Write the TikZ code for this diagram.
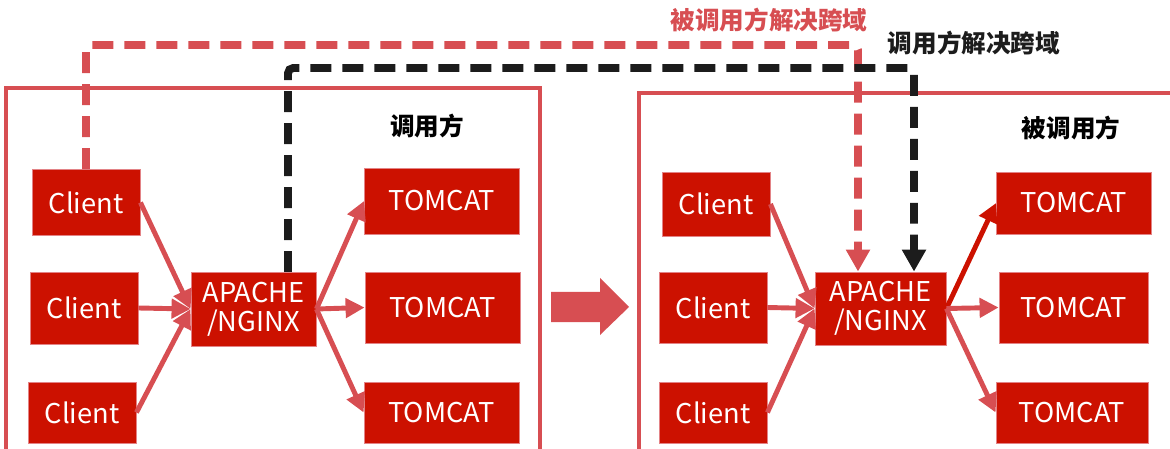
\documentclass[tikz,border=0pt]{standalone}
\usepackage{fontspec}
\setmainfont{Noto Sans CJK SC}
\usetikzlibrary{arrows.meta}
\definecolor{boxred}{RGB}{204,17,0}
\definecolor{linered}{RGB}{215,78,82}
\definecolor{darkline}{RGB}{28,28,28}
\begin{document}
\begin{tikzpicture}[x=0.02cm,y=-0.02cm,
  box/.style={fill=boxred,draw=linered!70!white,line width=0.5pt,text=white,inner sep=0pt,align=center,
    font=\fontsize{15.5}{16.5}\selectfont,minimum width=2.16cm,minimum height=1.32cm},
  tomcat/.style={box,minimum width=3.1cm},
  flow/.style={draw=linered,line width=2.8pt,-{Triangle[length=0.38cm,width=0.38cm]}},
  cross/.style={line width=4.5pt,dash pattern=on 0.42cm off 0.22cm,rounded corners=3pt,
    -{Triangle[length=0.44cm,width=0.46cm]}},
  title/.style={font=\bfseries\fontsize{14}{16}\selectfont}]
\useasboundingbox (0,0) rectangle (1170,449);
%\draw[help lines] (0,0) grid[step=50] (1170,449);
\draw[linered,line width=2.1pt] (6,449) |- (540,88) -- (540,449);
\draw[linered,line width=2.1pt] (639,449) |- (1175,93);
\node[title] (lcaller) at (427,126) {调用方};
\node[title] (rcallee) at (1071,128) {被调用方};
\node[title,text=linered] (redlabel) at (769,20) {被调用方解决跨域};
\node[title,text=darkline] (blacklabel) at (974,43) {调用方解决跨域};

\node[box] (lc1) at (86,202.5) {Client};
\node[box,minimum height=1.44cm] (lc2) at (84,308) {Client};
\node[box,minimum height=1.22cm] (lc3) at (82,412.5) {Client};
\node[box,minimum width=2.5cm,minimum height=1.48cm] (la) at (253.5,309) {APACHE\\/NGINX};
\node[tomcat] (lt1) at (442,201) {TOMCAT};
\node[tomcat,minimum height=1.42cm] (lt2) at (442.5,307.5) {TOMCAT};
\node[tomcat,minimum height=1.22cm] (lt3) at (441.5,412.5) {TOMCAT};

\node[box,minimum height=1.28cm] (rc1) at (716,204) {Client};
\node[box,minimum height=1.42cm] (rc2) at (713,307.5) {Client};
\node[box,minimum height=1.22cm] (rc3) at (713,412.5) {Client};
\node[box,minimum width=2.62cm,minimum height=1.46cm] (ra) at (880.5,308.5) {APACHE\\/NGINX};
\node[tomcat,minimum height=1.24cm] (rt1) at (1074,203) {TOMCAT};
\node[tomcat,minimum width=2.98cm,minimum height=1.42cm] (rt2) at (1073.5,307.5) {TOMCAT};
\node[tomcat,minimum width=3.04cm,minimum height=1.22cm] (rt3) at (1072,412.5) {TOMCAT};

\foreach \c in {lc1,lc2,lc3} \draw[flow] (\c.east) -- (la.west);
\foreach \t in {lt1,lt2,lt3} \draw[flow] (la.east) -- (\t.west);
\foreach \c in {rc1,rc2,rc3} \draw[flow] (\c.east) -- (ra.west);
\draw[flow,draw=boxred] (ra.east) -- (rt1.west);
\foreach \t in {rt2,rt3} \draw[flow] (ra.east) -- (\t.west);

\fill[linered] (551,292) -- (600,292) -- (600,278) -- (629,307) -- (600,335) -- (600,322) -- (551,322) -- cycle;

\coordinate (redturn) at (858,45);
\coordinate (blackstart) at (288,272);
\coordinate (blackturn) at (914,68);
\draw[cross,linered] (lc1.north) |- (redturn) -- (redturn |- ra.north);
\draw[cross,darkline] (blackstart) |- (blackturn) -- (blackturn |- ra.north);
\end{tikzpicture}
\end{document}
